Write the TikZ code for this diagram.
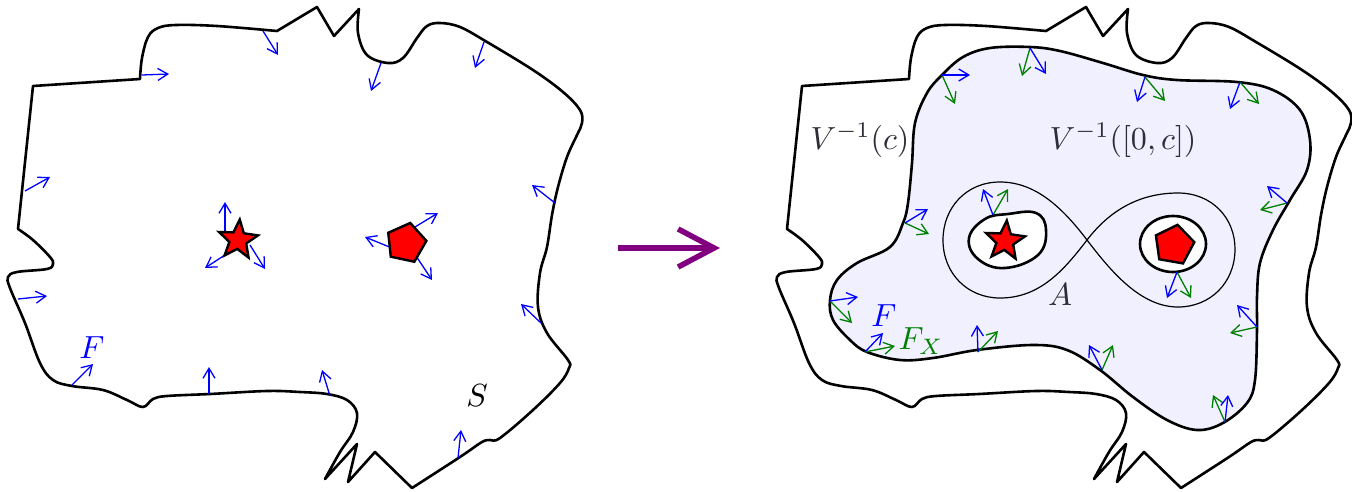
\documentclass[tikz,border=0pt]{standalone}
\usetikzlibrary{arrows.meta,shapes.geometric}
\definecolor{vblue}{RGB}{0,0,255}
\definecolor{vgreen}{RGB}{0,128,0}
\definecolor{shadecol}{RGB}{240,240,255}
\definecolor{bigpurple}{RGB}{128,0,128}
\definecolor{txt}{RGB}{45,45,55}
\tikzset{
  outline/.style={line width=2.6pt, line join=round},
  vec/.style={line width=1.3pt, -{Straight Barb[length=10pt,width=12pt,line width=1.3pt]}},
  bvec/.style={vec, vblue},
  gvec/.style={vec, vgreen},
  lbl/.style={scale=3.2, inner sep=0pt},
  redstar/.style={star, star points=5, star point ratio=2.3, minimum size=41pt, inner sep=0pt, draw, fill=red, line width=2.4pt},
  redpent/.style={regular polygon, regular polygon sides=5, minimum size=41pt, inner sep=0pt, draw, fill=red, line width=2.4pt},
}
\begin{document}
\begin{tikzpicture}[x=1pt,y=-1pt]
\useasboundingbox (0,0) rectangle (1352,491);
% ---------- outer boundaries (left and right copies) ----------
\foreach \dx in {0,769} {
\begin{scope}[xshift=\dx pt]
\draw[outline] (18,229) -- (33,86) -- (140,79)
 -- plot[smooth,tension=0.6] coordinates {(140,79) (142,58) (148,37) (158,28) (176,25) (217,26) (277,31)}
 -- (317,7) -- (334,36) -- (359,9)
 -- plot[smooth,tension=0.6] coordinates {(359,9) (358,33) (367,55) (388,63) (403,58) (417,38) (427,26) (440,23) (460,27) (487,42) (533,70) (563,92) (580,110) (582,123) (577,135) (567,157) (558,187) (552,215) (547,247) (540,273) (538,307) (547,333) (568,360) (569,368) (560,383) (533,410) (500,438) (490,440) (482,442) (460,457) (412,488)}
 -- (375,452) -- (348,482) -- (357,444) -- (325,479)
 -- plot[smooth,tension=0.6] coordinates {(325,479) (340,452) (353,432) (357,413) (347,400) (327,394) (300,392) (267,391) (210,394) (167,396) (153,399) (143,407) (127,400) (103,390) (72,386) (53,380) (40,363) (25,323) (10,288) (8,277) (17,272) (47,269) (53,264) (50,257) (33,240) (18,229)} -- cycle;
\end{scope}
}
% ---------- left picture: vector field F ----------
\foreach \ax/\ay/\bx/\by in {142/75/169/74, 263/31/278/55, 381/63/371/91, 484/42/475/68,
  25/191/50/177, 18/299/47/296, 72/385/93/364, 209/394/209/367, 330/396/322/370,
  458/458/461/430, 555/203/532/185, 541/323/521/304,
  225/232/225/202, 228/253/205/268, 250/245/265/269,
  410/230/438/213, 392/248/365/237, 416/256/432/280}
  \draw[bvec] (\ax,\ay) -- (\bx,\by);
\node[redstar, rotate=-5] (lstar) at (238,240) {};
\node[redpent, rotate=-12] (lpent) at (406,243) {};
\node[lbl, vblue] (lF) at (92,348) {$F$};
\node[lbl] (lS) at (477,396) {$S$};
% ---------- big arrow ----------
\coordinate (arrA) at (618,248);
\coordinate (arrB) at (720,248);
\draw[bigpurple, line width=5.5pt, -{Straight Barb[length=36pt,width=38pt,line width=5.5pt]}] (arrA) -- (arrB);
% ---------- right picture ----------
\draw[outline, fill=shadecol] plot[smooth cycle,tension=0.6] coordinates {(942,75) (963,57) (990,48) (1030,47) (1060,51) (1103,63) (1143,75) (1177,80) (1237,82) (1273,90) (1300,110) (1310,140) (1307,170) (1290,200) (1273,230) (1260,263) (1257,297) (1257,330) (1255,380) (1247,403) (1223,423) (1197,430) (1167,420) (1133,397) (1100,370) (1067,350) (1033,345) (977,350) (933,358) (900,360) (867,352) (850,340) (833,320) (830,300) (837,280) (857,263) (890,247) (903,223) (908,203) (912,163) (915,123) (927,93)};
% figure eight A
\draw[line width=1.2pt] (1087,240) .. controls (1062,207) and (1035,182) .. (1000,182)
  .. controls (966,182) and (943,208) .. (943,240)
  .. controls (943,274) and (968,298) .. (1000,298)
  .. controls (1040,298) and (1064,270) .. (1087,240)
  .. controls (1110,210) and (1140,193) .. (1178,193)
  .. controls (1212,193) and (1235,218) .. (1235,249)
  .. controls (1235,283) and (1210,307) .. (1178,307)
  .. controls (1140,307) and (1110,270) .. (1087,240);
% holes
\draw[outline, fill=white] plot[smooth cycle,tension=0.7] coordinates {(969,238) (985,219) (1008,214) (1036,213) (1046,230) (1038,255) (1005,268) (978,259)};
\draw[outline, fill=white] (1173,244) ellipse [x radius=33, y radius=28];
% vector pairs: start / blue end / green end
\foreach \ax/\ay/\bx/\by/\gx/\gy in {942/75/970/75/955/104, 1030/48/1046/74/1022/76,
  1145/77/1137/102/1165/101, 1240/82/1230/109/1259/104, 1287/203/1267/186/1260/210,
  1257/327/1237/305/1230/333, 1225/422/1228/395/1213/395, 1102/370/1089/345/1113/345,
  978/352/977/325/998/331, 865/352/883/333/895/346, 830/301/858/297/852/323,
  905/223/928/209/929/234, 993/215/983/189/1008/189, 1177/272/1167/298/1191/298} {
  \draw[gvec] (\ax,\ay) -- (\gx,\gy);
  \draw[bvec] (\ax,\ay) -- (\bx,\by);
}
\node[redstar, rotate=-5] (rstar) at (1005,241) {};
\node[redpent, rotate=-10] (rpent) at (1174,245) {};
\node[lbl, txt] (lvc) at (860,140) {$V^{-1}(c)$};
\node[lbl, txt] (lvoc) at (1123,140) {$V^{-1}([0,c])$};
\node[lbl, txt] (lA) at (1060,295) {$A$};
\node[lbl, vblue] (rF) at (884,316) {$F$};
\node[lbl, vgreen] (rFX) at (921,341) {$F_X$};
\end{tikzpicture}
\end{document}
